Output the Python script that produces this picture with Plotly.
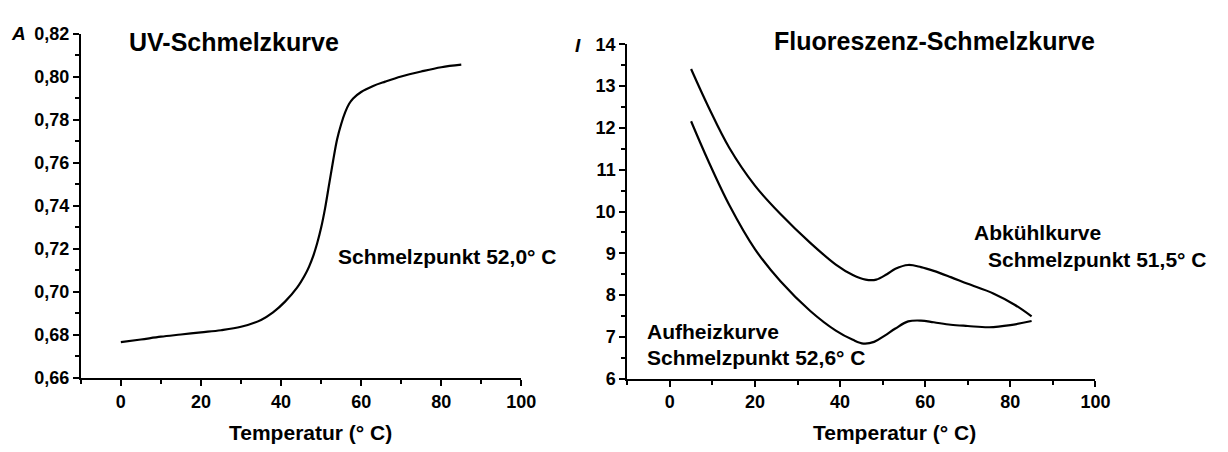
import plotly.graph_objects as go

# ---------------- data ----------------
uv_temp = [0, 5, 10, 15, 20, 25, 30, 35, 38, 41, 44, 46, 47, 48, 49, 50, 51, 52, 53, 54, 55, 56, 57, 58, 60, 63, 66, 70, 75, 80, 85]
uv_abs = [0.6767, 0.6779, 0.6792, 0.6802, 0.6812, 0.6822, 0.6838, 0.6870, 0.6905, 0.6955, 0.7020, 0.7080,
          0.7118, 0.7165, 0.7225, 0.7298, 0.7390, 0.7500, 0.7610, 0.7710, 0.7780, 0.7835, 0.7875, 0.7900,
          0.7930, 0.7958, 0.7978, 0.8002, 0.8025, 0.8045, 0.8057]

cool_temp = [5, 9, 14, 20, 26, 33, 39, 43, 46, 48.5, 51, 53, 56, 59, 62, 66, 70, 76, 81, 85]
cool_int = [13.41, 12.52, 11.52, 10.62, 9.94, 9.25, 8.73, 8.48, 8.37, 8.37, 8.50, 8.63, 8.72, 8.67, 8.58,
            8.43, 8.27, 8.04, 7.77, 7.49]

heat_temp = [5, 9, 14, 20, 26, 33, 39, 43, 45.5, 48, 50.5, 53, 56, 59, 62, 66, 70, 75, 80, 85]
heat_int = [12.16, 11.22, 10.15, 9.10, 8.33, 7.62, 7.15, 6.93, 6.84, 6.88, 7.03, 7.20, 7.37, 7.39, 7.35,
            7.29, 7.26, 7.23, 7.28, 7.38]

left_title = "UV-Schmelzkurve"
right_title = "Fluoreszenz-Schmelzkurve"
x_title = "Temperatur (° C)"

W, H = 1228, 452
FONT = "Liberation Sans, Arial, sans-serif"


def px(x):
    return x / W


def py(y):
    return 1 - y / H


fig = go.Figure()
line = dict(color="black", width=2.2, shape="spline", smoothing=1)
fig.add_trace(go.Scatter(x=uv_temp, y=uv_abs, mode="lines", line=line, xaxis="x", yaxis="y", showlegend=False))
fig.add_trace(go.Scatter(x=cool_temp, y=cool_int, mode="lines", line=line, xaxis="x2", yaxis="y2", showlegend=False))
fig.add_trace(go.Scatter(x=heat_temp, y=heat_int, mode="lines", line=line, xaxis="x2", yaxis="y2", showlegend=False))

tickfont = dict(family=FONT, size=18, color="black", weight="bold")
common = dict(showline=True, linewidth=2, linecolor="black", ticks="outside", ticklen=6, tickwidth=2,
              tickcolor="black", showgrid=False, zeroline=False, tickfont=tickfont, fixedrange=True)
minor_style = dict(ticks="outside", ticklen=4, tickwidth=2, tickcolor="black")

fig.update_layout(
    width=W, height=H,
    margin=dict(l=0, r=0, t=0, b=0),
    paper_bgcolor="white", plot_bgcolor="white",
    separators=",.",
    hovermode=False,
    xaxis=dict(domain=[px(81.8), px(527.8)], range=[-10, 100], tick0=0, dtick=20, anchor="y",
               minor=dict(dtick=10, **minor_style), **common),
    yaxis=dict(domain=[py(385), py(25)], range=[0.66, 0.82], dtick=0.02, tick0=0.66, tickformat=".2f", anchor="x",
               minor=dict(dtick=0.01, **minor_style), **common),
    xaxis2=dict(domain=[px(635), px(1109)], range=[-10, 100], tick0=0, dtick=20, anchor="y2",
                minor=dict(dtick=10, **minor_style), **common),
    yaxis2=dict(domain=[py(385.7), py(36)], range=[6, 14], dtick=1, tick0=6, anchor="x2",
                minor=dict(dtick=0.5, **minor_style), **common),
)


def bold(s):
    return dict(family=FONT, size=s, color="black", weight="bold")


ann = []
# titles
ann.append(dict(text=left_title, x=px(128.3), y=py(33), xref="paper", yref="paper", xanchor="left",
                yanchor="middle", showarrow=False, font=bold(25)))
ann.append(dict(text=right_title, x=px(781.7), y=py(32), xref="paper", yref="paper", xanchor="left",
                yanchor="middle", showarrow=False, font=bold(25)))
# axis letters
ann.append(dict(text="<i>A</i>", x=px(18.3), y=py(25), xref="paper", yref="paper", xanchor="center",
                yanchor="middle", showarrow=False, font=bold(19)))
ann.append(dict(text="<i>I</i>", x=px(585.5), y=py(37.5), xref="paper", yref="paper", xanchor="center",
                yanchor="middle", showarrow=False, font=bold(19)))
# x axis titles
ann.append(dict(text=x_title, x=px(314.7), y=py(442), xref="paper", yref="paper", xanchor="center",
                yanchor="middle", showarrow=False, font=bold(21)))
ann.append(dict(text=x_title, x=px(905.5), y=py(442), xref="paper", yref="paper", xanchor="center",
                yanchor="middle", showarrow=False, font=bold(21)))
# curve labels
ann.append(dict(text="Schmelzpunkt 52,0° C", x=53.6, y=0.7163, xref="x", yref="y", xanchor="left",
                yanchor="middle", showarrow=False, font=bold(21)))
ann.append(dict(text="Abkühlkurve", x=70.9, y=9.49, xref="x2", yref="y2", xanchor="left",
                yanchor="middle", showarrow=False, font=bold(21)))
ann.append(dict(text="Schmelzpunkt 51,5° C", x=74.2, y=8.84, xref="x2", yref="y2", xanchor="left",
                yanchor="middle", showarrow=False, font=bold(21)))
ann.append(dict(text="Aufheizkurve", x=-5.8, y=7.12, xref="x2", yref="y2", xanchor="left",
                yanchor="middle", showarrow=False, font=bold(21)))
ann.append(dict(text="Schmelzpunkt 52,6° C", x=-5.8, y=6.51, xref="x2", yref="y2", xanchor="left",
                yanchor="middle", showarrow=False, font=bold(21)))
fig.update_layout(annotations=ann)

fig.write_html("out.html", config={"displayModeBar": False, "staticPlot": True},
               post_script="document.body.style.margin='0';document.body.style.overflow='hidden';")
